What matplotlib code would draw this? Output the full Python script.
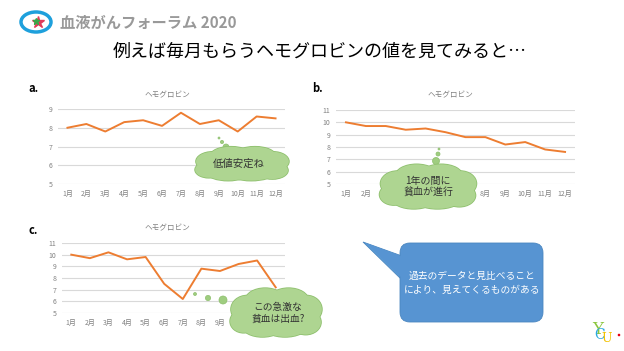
import numpy as np
import matplotlib
matplotlib.use('Agg')
import matplotlib.pyplot as plt
from matplotlib.patches import Ellipse, FancyBboxPatch, Polygon, Circle

plt.rcParams['font.family'] = ['Noto Sans CJK JP', 'DejaVu Sans']

# hemoglobin values
months = ['1月', '2月', '3月', '4月', '5月', '6月', '7月', '8月', '9月', '10月', '11月', '12月']
hb_a = [8.0, 8.2, 7.8, 8.3, 8.4, 8.1, 8.8, 8.2, 8.4, 7.8, 8.6, 8.5]
hb_b = [10.0, 9.7, 9.7, 9.4, 9.5, 9.2, 8.8, 8.8, 8.2, 8.4, 7.8, 7.6]
hb_c = [10.0, 9.7, 10.2, 9.6, 9.8, 7.5, 6.2, 8.8, 8.6, 9.2, 9.5, 7.2]

W, H = 624, 351
fig = plt.figure(figsize=(W / 100, H / 100), dpi=100)


def px_axes(x0, x1, ytop, ybot):
    return fig.add_axes([x0 / W, 1 - ybot / H, (x1 - x0) / W, (ybot - ytop) / H])


def hb_chart(ax, vals, ymin, ymax):
    x = np.arange(1, len(vals) + 1)
    ax.plot(x, vals, color='#ED7D31', lw=1.4)
    ax.set_xlim(0.5, 12.5)
    ax.set_ylim(ymin, ymax)
    ax.set_yticks(range(ymin, ymax + 1))
    ax.set_xticks(x)
    ax.set_xticklabels(months)
    ax.grid(axis='y', color='#d9d9d9', lw=0.8)
    ax.set_axisbelow(True)
    for s in ax.spines.values():
        s.set_visible(False)
    ax.tick_params(length=0, labelsize=5, labelcolor='#808080', pad=4)
    ax.patch.set_alpha(0)


ax_a = px_axes(58, 285, 109, 184)
hb_chart(ax_a, hb_a, 5, 9)
ax_b = px_axes(336, 575, 110, 184)
hb_chart(ax_b, hb_b, 5, 11)
ax_c = px_axes(62, 285, 243, 313)
hb_chart(ax_c, hb_c, 5, 11)

# overlay in pixel coordinates for texts and shapes
ov = fig.add_axes([0, 0, 1, 1])
ov.set_xlim(0, W)
ov.set_ylim(H, 0)
ov.axis('off')
ov.patch.set_alpha(0)

# header
ov.add_patch(Ellipse((36, 22), 30, 20, fill=False, ec='#1ea0dc', lw=2.5))
ov.add_patch(Ellipse((38, 22), 20, 14, fc='white', ec='none'))
ov.plot(38, 22, marker='*', ms=9, color='#e03c5a')
ov.plot(36, 21, marker='*', ms=5, color='#38a848')
ov.text(60, 23, '血液がんフォーラム 2020', fontsize=11, color='#999999',
        fontweight='bold', va='center', ha='left')
ov.text(320, 52, '例えば毎月もらうヘモグロビンの値を見てみると…', fontsize=13,
        color='black', va='center', ha='center')

# panel labels and titles
for lab, x, y in [('a.', 33, 88), ('b.', 317, 88), ('c.', 33, 231)]:
    ov.text(x, y, lab, fontsize=8, fontweight='bold', va='center', ha='center')
for x, y in [(167, 95), (450, 95), (167, 228)]:
    ov.text(x, y, 'ヘモグロビン', fontsize=5.5, color='#808080', va='center', ha='center')


def cloud(cx, cy, w, h):
    bumps = [(0, 0, 0.40, 0.36), (-0.32, -0.08, 0.18, 0.30), (-0.12, -0.28, 0.22, 0.26),
             (0.14, -0.28, 0.22, 0.26), (0.34, -0.08, 0.17, 0.30), (0.33, 0.2, 0.17, 0.27),
             (0.1, 0.3, 0.24, 0.22), (-0.15, 0.3, 0.22, 0.22), (-0.36, 0.18, 0.15, 0.25)]
    for dx, dy, rx, ry in bumps:
        ov.add_patch(Ellipse((cx + dx * w, cy + dy * h), 2 * rx * w + 1.6, 2 * ry * h + 1.6,
                             fc='#8dbf6c', ec='none'))
    for dx, dy, rx, ry in bumps:
        ov.add_patch(Ellipse((cx + dx * w, cy + dy * h), 2 * rx * w, 2 * ry * h,
                             fc='#aed591', ec='none'))


def bubbles(pts):
    for x, y, r in pts:
        ov.add_patch(Circle((x, y), r, fc='#9fcd80', ec='#8dbf6c', lw=0.5))


bubbles([(219, 138, 1.0), (222, 142, 1.6), (226, 147, 3.0)])
cloud(242, 164, 92, 32)
ov.text(239, 164, '低値安定ね', fontsize=7.5, color='#333333', va='center', ha='center')

bubbles([(439, 149, 1.0), (438, 154, 2.0), (436, 161, 3.5)])
cloud(428, 187, 95, 42)
ov.text(428, 187, '1年の間に\n貧血が進行', fontsize=7.2, color='#333333',
        va='center', ha='center', linespacing=1.2)

bubbles([(195, 294, 1.5), (208, 298, 2.6), (223, 300, 4.0)])
cloud(276, 313, 90, 46)
ov.text(278, 313, 'この急激な\n貧血は出血?', fontsize=7, color='#333333',
        va='center', ha='center', linespacing=1.3)

# callout
ov.add_patch(Polygon([(363, 242), (402, 256), (402, 280)], closed=True,
                     fc='#5b9bd5', ec='#4a86c0', lw=0.6))
ov.add_patch(FancyBboxPatch((400, 243), 143, 79, boxstyle='round,pad=0,rounding_size=10',
                            fc='#5794d2', ec='#4a86c0', lw=0.6))
ov.add_patch(Polygon([(366, 243), (403, 257), (403, 279)], closed=True,
                     fc='#5794d2', ec='none'))
ov.text(472, 283, '過去のデータと見比べること\nにより、見えてくるものがある', fontsize=7,
        color='white', va='center', ha='center', linespacing=1.5)

# YCU logo
ov.text(598, 329, 'Y', fontsize=12, color='#8cc63f', family='DejaVu Serif', va='center', ha='center')
ov.text(600, 335, 'C', fontsize=10, color='#29a8e0', family='DejaVu Serif', va='center', ha='center')
ov.text(607, 339, 'U', fontsize=9, color='#f2c200', family='DejaVu Serif', va='center', ha='center')
ov.add_patch(Circle((619, 335), 1.3, fc='#e60012', ec='none'))

fig.savefig('out.png', dpi=100)
